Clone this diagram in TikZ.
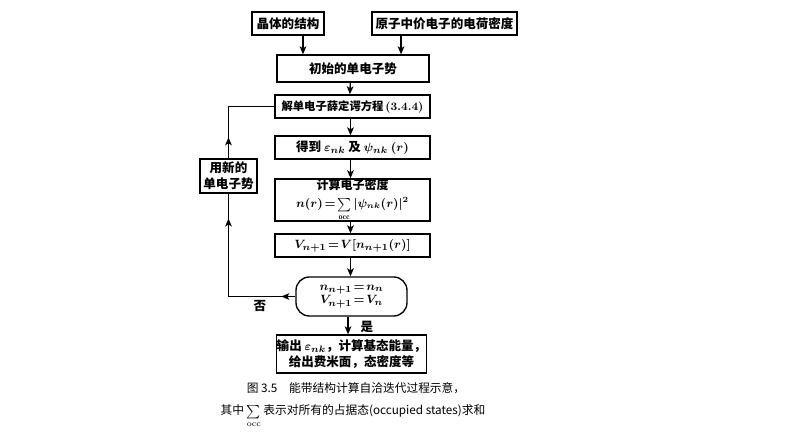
\documentclass[tikz,border=0pt]{standalone}
\usepackage{fontspec}
\newfontfamily\cjk{Noto Sans CJK SC}
\usetikzlibrary{arrows.meta}
\newcommand\occsum{\mathop{\hbox{\fontsize{7.5}{7.5}\selectfont$\textstyle\sum$}}\limits_{\mathrm{occ}}}
\begin{document}
\begin{tikzpicture}[x=0.75pt,y=-0.75pt,
  box/.style={draw, line width=1pt, inner sep=0pt, align=center,
    font=\cjk\bfseries\fontsize{9.4}{12}\selectfont\boldmath},
  arr/.style={line width=1pt,-{Stealth[length=6pt,width=5pt,inset=1.5pt]}},
  ln/.style={line width=1pt},
  captext/.style={font=\cjk\fontsize{8.8}{11}\selectfont}]
\useasboundingbox (0,0) rectangle (794,447);
\node[box, minimum width=54pt, minimum height=17.25pt] (b1) at (288,23.5) {晶体的结构};
\node[box, minimum width=108.75pt, minimum height=17.25pt] (b2) at (444.5,23.5) {原子中价电子的电荷密度};
\node[box, minimum width=114pt, minimum height=20.25pt] (b3) at (353,68.5) {初始的单电子势};
\node[box, minimum width=116.25pt, minimum height=17.25pt, font=\cjk\bfseries\fontsize{8.5}{12}\selectfont] (b4) at (352.5,106.5) {解单电子薛定谔方程\,{\rmfamily\bfseries (3.4.4)}};
\node[box, minimum width=116.25pt, minimum height=17.25pt] (b5) at (352.5,147.5) {得到 $\varepsilon_{nk}$ 及 $\psi_{nk}\ (r)$};
\node[box, minimum width=116.25pt, minimum height=28.5pt, font=\cjk\bfseries\fontsize{9}{10}\selectfont\boldmath] (b6) at (352.5,200) {计算电子密度\\[3.5pt]$n(r)\!=\!\occsum|\psi_{nk}(r)|^2$};
\node[box, minimum width=116.25pt, minimum height=17.25pt] (b7) at (352.5,245.5) {$V_{n+1}\!=\!V[n_{n+1}(r)]$};
\node[box, rounded corners=10pt, minimum width=83.25pt, minimum height=29.25pt] (dec) at (351.5,296.5) {$n_{n+1}\!=\!n_n$\\[-2pt]$V_{n+1}\!=\!V_n$};
\node[box, minimum width=104.25pt, minimum height=28.5pt] (out) at (351.5,354) {输出 $\varepsilon_{nk}$，计算基态能量，\\给出费米面，态密度等};
\node[box, minimum width=42.75pt, minimum height=25.5pt] (new) at (228.5,176) {用新的\\单电子势};
\coordinate (fl) at (228.5,296.5);
\coordinate (ft) at (228.5,106.5);
% arrows
\draw[arr] ([xshift=11.25pt]b1.south) -- ([xshift=11.25pt]b1.south |- b3.north);
\draw[arr] ([xshift=-32.6pt]b2.south) -- ([xshift=-32.6pt]b2.south |- b3.north);
\draw[arr] ([xshift=-2pt]b3.south) -- ([xshift=-2pt]b4.north);
\draw[arr] ([xshift=-1.5pt]b4.south) -- ([xshift=-1.5pt]b5.north);
\draw[arr] ([xshift=-1.5pt]b5.south) -- ([xshift=-1.5pt]b6.north);
\draw[arr] ([xshift=-1.5pt]b6.south) -- ([xshift=-1.5pt]b7.north);
\draw[arr] ([xshift=-1.5pt]b7.south) -- ([xshift=-1.5pt]b7.south |- dec.north);
\draw[arr] ([xshift=-2.6pt]dec.south) -- ([xshift=-2.6pt]out.north);
\node[font=\cjk\bfseries\fontsize{9.4}{12}\selectfont] (yes) at (367,326.5) {是};
% feedback
\draw[ln] (dec.west) -- (fl) -- (new.south);
\draw[ln] (new.north) -- (ft) -- (b4.west);
\draw[arr] (dec.west) -- ++(-14,0);
\draw[arr] (new.north) -- ++(0,-21);
\draw[arr] (fl) -- ++(0,-78);
\node[font=\cjk\bfseries\fontsize{9.4}{12}\selectfont] (no) at (260,306) {否};
% caption
\node[captext] (c1) at (356,388) {图 3.5\quad 能带结构计算自洽迭代过程示意，};
\node[captext, anchor=base] (c2) at (353,414) {其中 $\occsum$ 表示对所有的占据态(occupied states)求和};
\end{tikzpicture}
\end{document}
